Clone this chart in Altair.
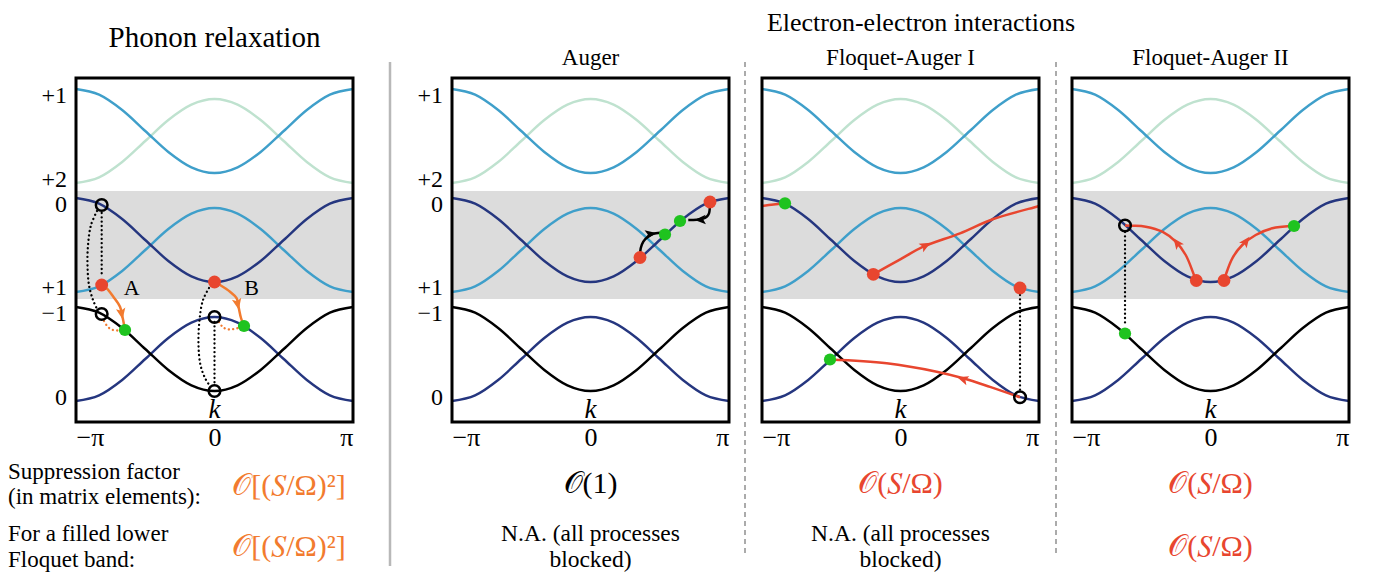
import altair as alt
import numpy as np
import pandas as pd

PI = float(np.pi)
W, H = 277, 344
SERIF = "Liberation Serif"

RED = "#e8462f"
GREEN = "#1fc31f"
ORANGE = "#f27b2f"
LIGHTBLUE = "#3f9fca"
DARKBLUE = "#25367f"
PALEGREEN = "#bfe2cf"
GAPGRAY = "#dcdcdc"
SEPGRAY = "#ababab"

# ---------------- band structure (identical in all panels) ----------------
k_grid = [-PI + i * PI / 6 for i in range(13)]
# height above the band minimum, relative to full band width (1 at zone edge)
band_profile = [1.0, 0.933, 0.75, 0.5, 0.25, 0.067, 0.0, 0.067, 0.25, 0.5, 0.75, 0.933, 1.0]
band_names = ["top_green", "top_blue", "mid_light", "mid_dark", "bot_dark", "bot_black"]
band_low = [23.9, 24.9, 13.0, 14.0, 2.1, 3.1]
band_high = [32.3, 33.3, 21.4, 22.4, 10.5, 11.5]
band_edge_up = [False, True, False, True, False, True]
band_colors = [PALEGREEN, LIGHTBLUE, LIGHTBLUE, DARKBLUE, DARKBLUE, "#000000"]

gap_low, gap_high = 12.3, 23.1

ylab_text = ["+1", "+2", "0", "+1", "\u22121", "0"]
ylab_E = [32.65, 24.25, 21.7, 13.4, 10.8, 2.45]

# ---------------- dots ----------------
dot_panel = [1, 1, 1, 1, 1, 1, 1, 1,
             2, 2, 2, 2,
             3, 3, 3, 3, 3,
             4, 4, 4, 4, 4]
dot_k = [-2.559, 0.0, -2.030, 0.669, -2.559, -2.559, 0.0, 0.0,
         1.123, 1.690, 2.030, 2.711,
         -2.620, -0.617, 2.711, 2.711, -1.599,
         -1.939, -1.939, -0.322, 0.306, 1.894]
dot_E = [13.7, 14.0, 9.2, 9.6, 21.7, 10.8, 10.5, 3.1,
         16.45, 18.75, 20.1, 22.0,
         21.87, 14.77, 13.4, 2.47, 6.25,
         19.65, 8.85, 14.15, 14.15, 19.6]
dot_kind = ["red", "red", "green", "green", "open", "open", "open", "open",
            "red", "green", "green", "red",
            "green", "red", "red", "open", "green",
            "open", "green", "red", "red", "green"]

# ---------------- transition paths ----------------
path_panel = [1, 1, 1, 1, 1, 1, 1, 1,
              2, 2,
              3, 3, 3, 3,
              4, 4, 4]
path_style = ["orange", "orange", "orange_dot", "orange_dot", "black_dot", "black_dot", "black_dot", "black_dot",
              "black", "black",
              "red", "red", "red", "black_dot",
              "black_dot", "red", "red"]
path_k = [
    [-2.559, -2.445, -2.295, -2.143, -2.082, -2.030],
    [0.0, 0.125, 0.352, 0.504, 0.551, 0.601, 0.669],
    [-2.507, -2.416, -2.302, -2.166],
    [0.10, 0.20, 0.33, 0.54],
    [-2.559, -2.559],
    [-2.665, -2.801, -2.869, -2.881, -2.847, -2.756, -2.665],
    [0.0, 0.0],
    [-0.125, -0.261, -0.340, -0.363, -0.318, -0.215, -0.102],
    [1.123, 1.139, 1.198, 1.298, 1.425, 1.576],
    [2.711, 2.688, 2.636, 2.536, 2.409, 2.218],
    [-0.617, -0.057, 0.517, 1.350, 2.105, 3.090, PI],
    [-PI, -2.88, -2.62],
    [2.711, 2.030, 1.425, 0.821, -0.313, -1.599],
    [2.711, 2.711],
    [-1.939, -1.939],
    [-0.322, -0.374, -0.562, -0.789, -1.093, -1.470, -1.774, -1.939],
    [0.306, 0.345, 0.495, 0.721, 1.025, 1.402, 1.819, 1.894],
]
path_E = [
    [13.7, 13.37, 12.53, 11.53, 10.4, 9.2],
    [14.0, 13.7, 13.03, 12.37, 11.4, 10.4, 9.6],
    [10.1, 9.5, 9.2, 9.15],
    [10.0, 9.45, 9.25, 9.4],
    [20.9, 14.5],
    [21.1, 19.7, 17.7, 15.7, 13.7, 12.2, 11.3],
    [10.0, 3.9],
    [13.4, 12.2, 10.2, 7.7, 5.7, 4.4, 3.6],
    [16.45, 17.37, 18.03, 18.53, 18.83, 18.93],
    [22.0, 20.87, 20.53, 20.33, 20.23, 20.2],
    [14.77, 16.13, 17.53, 18.87, 20.3, 21.53, 21.6],
    [21.6, 21.75, 21.87],
    [2.47, 3.51, 4.37, 5.03, 5.87, 6.25],
    [12.7, 3.2],
    [19.0, 9.6],
    [14.15, 14.7, 16.7, 18.03, 19.03, 19.53, 19.63, 19.65],
    [14.15, 14.7, 16.37, 17.7, 18.7, 19.37, 19.6],
]

# ---------------- arrowheads ----------------
head_panel = [1, 1, 2, 2, 3, 3, 4, 4]
head_k = [-2.110, 0.522, 1.350, 2.507, 0.556, 1.425, -0.753, 0.798]
head_E = [10.9, 11.85, 18.8, 20.23, 17.63, 4.27, 17.87, 18.03]
head_angle = [170, 168, 80, 268, 61, 288, 323, 37]
head_color = ["orange", "orange", "black", "black", "red", "red", "red", "red"]

# ---------------- build tables ----------------
band_rows = []
for name, lo, hi, up in zip(band_names, band_low, band_high, band_edge_up):
    for kk, pr in zip(k_grid, band_profile):
        frac = pr if up else 1.0 - pr
        band_rows.append({"band": name, "k": kk, "E": lo + (hi - lo) * frac})
bands = pd.DataFrame(band_rows)

dots = pd.DataFrame({"panel": dot_panel, "k": dot_k, "E": dot_E, "kind": dot_kind})

prow = []
for i, (pp, st, ks, es) in enumerate(zip(path_panel, path_style, path_k, path_E)):
    for j, (kk, ee) in enumerate(zip(ks, es)):
        prow.append({"pid": i, "panel": pp, "style": st, "ord": j, "k": kk, "E": ee})
paths = pd.DataFrame(prow)

heads = pd.DataFrame({"panel": head_panel, "k": head_k, "E": head_E,
                      "angle": head_angle, "color": head_color})
ylabs = pd.DataFrame({"t": ylab_text, "E": ylab_E})
gap = pd.DataFrame({"lo": [gap_low], "hi": [gap_high]})
ONE = pd.DataFrame({"a": [0]})

COLMAP = {"orange": ORANGE, "black": "#000000", "red": RED, "green": GREEN}
ARROW = "M0,-1 L0.75,0.75 L0,0.35 L-0.75,0.75 Z"

xs = alt.Scale(domain=[-PI, PI], nice=False, zero=False)
ys = alt.Scale(domain=[0, 34.4], nice=False, zero=False)
xaxis = alt.Axis(values=[-PI, 0, PI],
                 labelExpr="datum.value < -1 ? '\u2212\u03c0' : (datum.value > 1 ? '\u03c0' : '0')",
                 labelFlush=True, ticks=False, domain=False, grid=False, title=None,
                 labelFont=SERIF, labelFontSize=26, labelColor="black", labelPadding=2)


def X(f):
    return alt.X(f, type="quantitative", scale=xs, axis=xaxis)


def Y(f):
    return alt.Y(f, type="quantitative", scale=ys, axis=None)


def txt(s, x, y, size, color="black", align="center", style="normal"):
    return alt.Chart(ONE).mark_text(text=s, fontSize=size, font=SERIF, color=color, align=align,
                                    baseline="middle", fontStyle=style).encode(
        x=alt.value(x), y=alt.value(y))


def panel(p, texts, ylabels=False):
    layers = []
    layers.append(alt.Chart(gap).mark_rect(color=GAPGRAY).encode(
        x=alt.value(0), x2=alt.value(W), y=Y("lo"), y2="hi"))
    for name, col in zip(band_names, band_colors):
        layers.append(alt.Chart(bands[bands.band == name]).mark_line(
            interpolate="monotone", color=col, strokeWidth=2.4).encode(x=X("k"), y=Y("E")))
    pp = paths[paths.panel == p]
    for st in ["black_dot", "orange_dot", "orange", "black", "red"]:
        d = pp[pp["style"] == st]
        if len(d) == 0:
            continue
        if st.endswith("_dot"):
            col = "#000000" if st.startswith("black") else ORANGE
            mk = alt.Chart(d).mark_line(interpolate="catmull-rom", color=col, strokeWidth=2.3,
                                        strokeDash=[0.1, 4.2], strokeCap="round")
        else:
            mk = alt.Chart(d).mark_line(interpolate="catmull-rom", color=COLMAP[st], strokeWidth=2.5)
        layers.append(mk.encode(x=X("k"), y=Y("E"), detail="pid:N", order="ord:Q"))
    hh = heads[heads.panel == p]
    for c in hh["color"].unique():
        layers.append(alt.Chart(hh[hh.color == c]).mark_point(
            shape=ARROW, filled=True, color=COLMAP[c], size=160, opacity=1).encode(
            x=X("k"), y=Y("E"), angle=alt.Angle("angle:Q", scale=None)))
    dd = dots[dots.panel == p]
    for kind in ["red", "green", "open"]:
        d = dd[dd.kind == kind]
        if len(d) == 0:
            continue
        if kind == "open":
            mk = alt.Chart(d).mark_point(shape="circle", filled=False, color="black",
                                         strokeWidth=2.5, size=135, opacity=1)
        else:
            mk = alt.Chart(d).mark_point(shape="circle", filled=True, color=COLMAP[kind],
                                         size=165 if kind == "red" else 150, opacity=1)
        layers.append(mk.encode(x=X("k"), y=Y("E")))
    # frame
    layers.append(alt.Chart(ONE).mark_rect(fillOpacity=0, stroke="black", strokeWidth=3).encode(
        x=alt.value(0), x2=alt.value(W), y=alt.value(0), y2=alt.value(H)))
    # k label
    layers.append(alt.Chart(pd.DataFrame({"k": [0.0], "E": [1.2], "t": ["k"]})).mark_text(
        font=SERIF, fontSize=27, fontStyle="italic", baseline="middle").encode(
        x=X("k"), y=Y("E"), text="t:N"))
    if ylabels:
        layers.append(alt.Chart(ylabs).mark_text(
            font=SERIF, fontSize=24, align="right", baseline="middle").encode(
            x=alt.value(-9), y=Y("E"), text="t:N"))
    layers.extend(texts)
    return alt.layer(*layers).properties(width=W, height=H)


O_SQ = "\U0001D4AA[(\U0001D446/\u03A9)\u00B2]"
O_S = "\U0001D4AA(\U0001D446/\u03A9)"
O_1 = "\U0001D4AA(1)"
FS_MATH = 30

p1_texts = [
    txt("Phonon relaxation", 138.5, -40, 29),
    alt.Chart(pd.DataFrame({"k": [-1.878, 0.844], "E": [13.37, 13.37], "t": ["A", "B"]})).mark_text(
        font=SERIF, fontSize=22, baseline="middle").encode(x=X("k"), y=Y("E"), text="t:N"),
    txt("Suppression factor", -68, 394, 23, align="left"),
    txt("(in matrix elements):", -68, 419, 23, align="left"),
    txt("For a filled lower", -68, 456, 23, align="left"),
    txt("Floquet band:", -68, 482, 23, align="left"),
    txt(O_SQ, 213, 408, FS_MATH, color=ORANGE),
    txt(O_SQ, 213, 469, FS_MATH, color=ORANGE),
]
p2_texts = [
    txt("Auger", 138.5, -20, 23),
    txt(O_1, 138.5, 406, FS_MATH),
    txt("N.A. (all processes", 138.5, 456, 23.5),
    txt("blocked)", 138.5, 482, 23.5),
    alt.Chart(ONE).mark_rule(color=SEPGRAY, strokeWidth=2, strokeDash=[5, 4]).encode(
        x=alt.value(293), y=alt.value(-16), y2=alt.value(478)),
]
p3_texts = [
    txt("Electron-electron interactions", 159, -55, 26),
    txt("Floquet-Auger I", 138.5, -20, 23),
    txt(O_S, 138.5, 406, FS_MATH, color=RED),
    txt("N.A. (all processes", 138.5, 456, 23.5),
    txt("blocked)", 138.5, 482, 23.5),
    alt.Chart(ONE).mark_rule(color=SEPGRAY, strokeWidth=2, strokeDash=[5, 4]).encode(
        x=alt.value(294), y=alt.value(-16), y2=alt.value(478)),
]
p4_texts = [
    txt("Floquet-Auger II", 138.5, -20, 23),
    txt(O_S, 138.5, 406, FS_MATH, color=RED),
    txt(O_S, 138.5, 469, FS_MATH, color=RED),
]

p1 = panel(1, p1_texts, ylabels=True)
p2 = panel(2, p2_texts, ylabels=True)
p3 = panel(3, p3_texts)
p4 = panel(4, p4_texts)

spacer = alt.Chart(ONE).mark_rule(color="#b8b8b8", strokeWidth=2.5).encode(
    x=alt.value(4), y=alt.value(-16), y2=alt.value(488)).properties(width=33, height=H)

chart = alt.hconcat(p1, spacer, p2, p3, p4, spacing=33, bounds="flush").properties(
    padding={"left": 0, "top": 2, "right": 0, "bottom": 0}
).configure_view(stroke=None)

chart.save("out.html", embed_options={"renderer": "svg", "actions": False})
